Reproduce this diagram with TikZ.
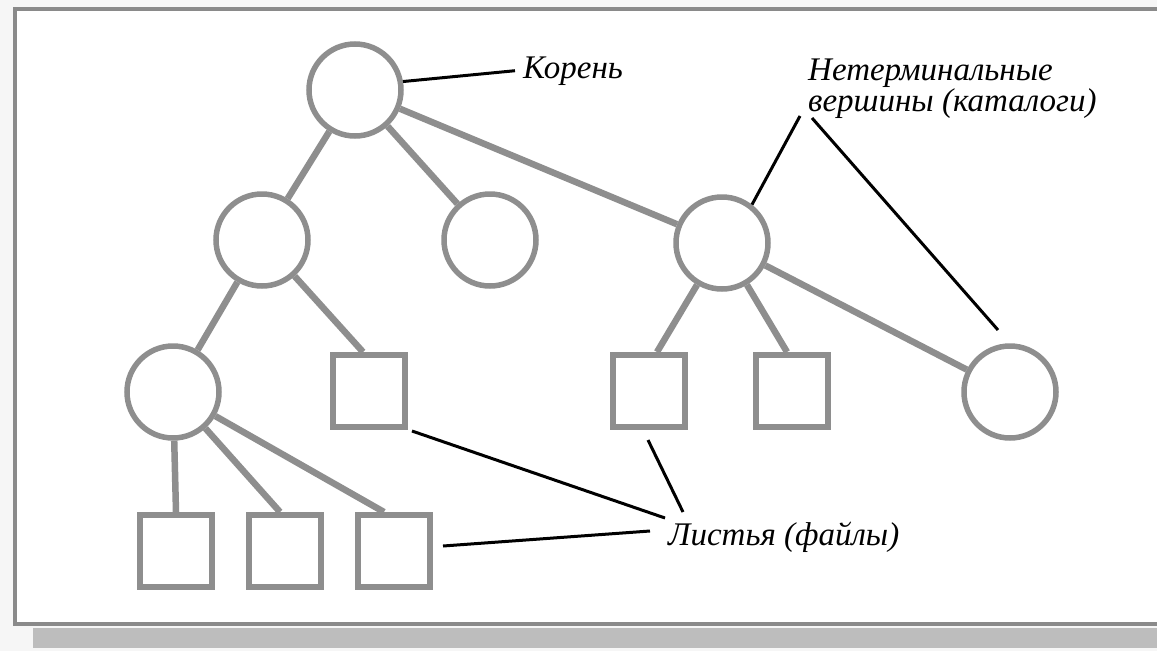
\documentclass[tikz,border=0pt]{standalone}
\usepackage{fontspec}
\setmainfont{Liberation Serif}
\definecolor{treegray}{HTML}{8E8E8E}
\definecolor{framegray}{HTML}{8A8A8A}
\definecolor{shadowgray}{HTML}{BDBDBD}
\definecolor{pagegray}{HTML}{F6F6F6}
\begin{document}
\begin{tikzpicture}[x=1pt,y=-1pt,
  edge/.style={draw=treegray, line width=6.5pt},
  dir/.style={circle, draw=treegray, fill=white, line width=5.5pt, minimum size=92pt, inner sep=0pt},
  leaf/.style={rectangle, draw=treegray, fill=white, line width=6pt, minimum size=72pt, inner sep=0pt},
  pointer/.style={draw=black, line width=3pt},
  lbl/.style={font=\itshape\fontsize{33}{33}\selectfont, inner sep=0pt, anchor=base west}
]
\useasboundingbox (0,0) rectangle (1157,651);
\clip (0,0) rectangle (1157,651);

% sheet, shadow and frame
\fill[pagegray] (0,0) rectangle (1157,651);
\fill[shadowgray] (33,628) rectangle (1180,648);
\fill[white] (15,9) rectangle (1180,624);
\draw[framegray, line width=4pt] (1180,9) -- (15,9) -- (15,624) -- (1180,624);

% directories
\node[dir] (root) at (355,90)  {};
\node[dir] (d1)   at (262,240) {};
\node[dir] (d2)   at (490,240) {};
\node[dir] (d3)   at (722,243) {};
\node[dir] (d4)   at (173,392) {};
\node[dir] (d5)   at (1010,392) {};

% files
\node[leaf] (f1) at (369,391) {};
\node[leaf] (f2) at (649,391) {};
\node[leaf] (f3) at (792,391) {};
\node[leaf] (f4) at (176,551) {};
\node[leaf] (f5) at (285,551) {};
\node[leaf] (f6) at (394,551) {};

% tree edges
\draw[edge] (root) -- (d1);
\draw[edge] (root) -- (d2);
\draw[edge] (root) -- (d3);
\draw[edge] (d1) -- (d4);
\draw[edge] (d1) -- ([xshift=-6pt]f1.north);
\draw[edge] (d3) -- ([xshift=8pt]f2.north);
\draw[edge] (d3) -- ([xshift=-5pt]f3.north);
\draw[edge] (d3) -- (d5);
\draw[edge] (d4) -- (f4.north);
\draw[edge] (d4) -- ([xshift=-5pt]f5.north);
\draw[edge] (d4) -- ([xshift=-10pt]f6.north);

% labels
\node[lbl] (kor) at (523,78) {Корень};
\node[lbl] (nt1) at (808,80) {Нетерминальные};
\node[lbl] (nt2) at (808,111) {вершины (каталоги)};
\node[lbl] (ls)  at (668,545) {Листья (файлы)};

% pointer ends
\coordinate (ntA) at (800,116);
\coordinate (ntB) at (812,118);
\coordinate (d5top) at (998,330);
\coordinate (lsA) at (665,518);
\coordinate (lsB) at (683,512);
\coordinate (lsC) at (650,531);
\coordinate (f2low) at (648,440);
\coordinate (f6side) at (443,546);

% pointers
\draw[pointer] (root.10) -- ([xshift=-8pt]kor.west);
\draw[pointer] (ntA) -- (d3.52);
\draw[pointer] (ntB) -- (d5top);
\draw[pointer] ([xshift=4pt,yshift=-1pt]f1.south east) -- (lsA);
\draw[pointer] (f2low) -- (lsB);
\draw[pointer] (f6side) -- (lsC);
\end{tikzpicture}
\end{document}
